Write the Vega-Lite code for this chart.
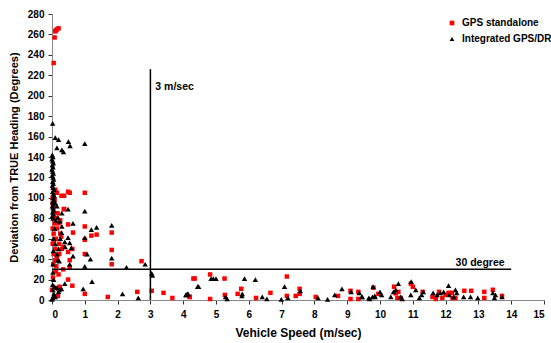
{
  "$schema": "https://vega.github.io/schema/vega-lite/v6.json",
  "width": 492,
  "height": 286,
  "autosize": "none",
  "padding": {"left": 52, "top": 14, "right": 7, "bottom": 43},
  "config": {
    "view": {"stroke": null},
    "font": "Liberation Sans",
    "axis": {
      "grid": false,
      "domainColor": "#888888",
      "tickColor": "#333333",
      "tickSize": 4,
      "labelFont": "Liberation Sans",
      "labelFontWeight": "bold",
      "labelFontSize": 10,
      "labelColor": "#000000",
      "titleFont": "Liberation Sans",
      "titleFontWeight": "bold",
      "titleFontSize": 11,
      "titleColor": "#000000"
    }
  },
  "datasets": {
    "gps": [
      {"x":0.05,"y":232},{"x":0.08,"y":257},{"x":0.1,"y":263},{"x":0.15,"y":265},{"x":0.2,"y":266},{"x":0.12,"y":264},
      {"x":0.1,"y":108},{"x":0.15,"y":105},{"x":0.29,"y":102},{"x":0.37,"y":102},{"x":0.49,"y":106},{"x":0.54,"y":105},{"x":1.0,"y":105},{"x":0.37,"y":89},{"x":0.49,"y":74},{"x":1.0,"y":72},{"x":1.0,"y":59},{"x":1.2,"y":63},{"x":1.36,"y":64},{"x":1.82,"y":66},{"x":0.64,"y":66},{"x":0.62,"y":50},{"x":1.82,"y":49},{"x":1.0,"y":45},{"x":0.49,"y":47},{"x":0.54,"y":39},{"x":0.1,"y":39},{"x":0.13,"y":33},{"x":0.34,"y":30},{"x":0.54,"y":32},{"x":1.82,"y":35},{"x":2.73,"y":38},{"x":0.2,"y":25},{"x":0.03,"y":22},{"x":0.49,"y":20},{"x":0.24,"y":11},{"x":0.18,"y":11},{"x":0.62,"y":14},{"x":1.0,"y":6},{"x":0.18,"y":4},{"x":1.7,"y":3},{"x":2.6,"y":8},{"x":3.04,"y":9},{"x":3.4,"y":7},{"x":3.67,"y":2},{"x":4.2,"y":3},{"x":4.35,"y":21},
      {"x":0.02,"y":95},{"x":0.05,"y":85},{"x":0.1,"y":80},{"x":0.08,"y":75},{"x":0.15,"y":70},{"x":0.2,"y":75},{"x":0.25,"y":78},{"x":0.05,"y":65},{"x":0.12,"y":60},{"x":0.22,"y":55},{"x":0.3,"y":50},{"x":0.05,"y":45},{"x":0.15,"y":42},{"x":0.02,"y":55},{"x":0.1,"y":50},{"x":0.25,"y":65},{"x":0.04,"y":90},{"x":0.02,"y":100},{"x":0.08,"y":98},{"x":0.17,"y":85},{"x":0.28,"y":62},{"x":0.35,"y":52},{"x":0.12,"y":28},{"x":0.22,"y":45},{"x":0.02,"y":70},{"x":0.06,"y":58},{"x":0.04,"y":35},{"x":0.0,"y":10},{"x":0.36,"y":89},{"x":0.23,"y":13},
      {"x":4.31,"y":21},{"x":4.2,"y":3},{"x":4.82,"y":25},{"x":4.82,"y":1},{"x":5.26,"y":21},{"x":5.27,"y":5},{"x":5.66,"y":6},{"x":5.77,"y":11},{"x":6.22,"y":2},{"x":6.66,"y":7},{"x":7.16,"y":23},{"x":7.16,"y":4},{"x":7.43,"y":4},{"x":7.55,"y":11},{"x":7.55,"y":6},{"x":8.04,"y":3},{"x":8.72,"y":4},{"x":9.1,"y":9},{"x":9.1,"y":1},{"x":9.34,"y":8},{"x":9.34,"y":1},{"x":9.8,"y":12},{"x":9.95,"y":6},
      {"x":10.43,"y":13},{"x":10.48,"y":6.5},{"x":10.56,"y":8},{"x":10.53,"y":2},{"x":10.63,"y":2},{"x":10.94,"y":16},{"x":11.0,"y":13},{"x":11.3,"y":8},{"x":11.7,"y":1},{"x":11.8,"y":8},{"x":11.9,"y":2},{"x":12.09,"y":7},{"x":12.19,"y":7},{"x":12.21,"y":2},{"x":12.3,"y":2},{"x":12.57,"y":9},{"x":12.78,"y":9},{"x":13.18,"y":2},{"x":13.18,"y":8},{"x":13.44,"y":10},{"x":13.72,"y":4},{"x":12.0,"y":5},{"x":11.6,"y":3}
    ],
    "dr": [
      {"x":0.02,"y":173},{"x":0.01,"y":142},{"x":0.03,"y":140},{"x":0.0,"y":138},{"x":0.02,"y":136},{"x":0.04,"y":134},{"x":0.01,"y":132},{"x":0.03,"y":130},{"x":0.0,"y":128},{"x":0.02,"y":126},{"x":0.04,"y":124},{"x":0.01,"y":122},{"x":0.03,"y":120},{"x":0.05,"y":118},{"x":0.02,"y":116},{"x":0.04,"y":114},{"x":0.01,"y":112},{"x":0.03,"y":110},{"x":0.06,"y":108},{"x":0.02,"y":106},{"x":0.04,"y":104},{"x":0.07,"y":102},{"x":0.03,"y":100},{"x":0.05,"y":98},{"x":0.02,"y":96},{"x":0.04,"y":94},{"x":0.01,"y":92},{"x":0.03,"y":90},{"x":0.05,"y":88},{"x":0.02,"y":86},{"x":0.04,"y":84},{"x":0.01,"y":82},{"x":0.03,"y":80},
      {"x":0.1,"y":159},{"x":0.2,"y":157},{"x":0.15,"y":149},{"x":0.3,"y":147},{"x":0.35,"y":145},{"x":0.5,"y":155},{"x":0.55,"y":151},{"x":1.0,"y":153},
      {"x":0.49,"y":89},{"x":1.0,"y":87},{"x":0.64,"y":75},{"x":0.18,"y":81},{"x":0.24,"y":77},{"x":0.29,"y":66},{"x":0.39,"y":57},{"x":0.49,"y":61},{"x":0.54,"y":56},{"x":0.59,"y":51},{"x":0.64,"y":43},{"x":1.0,"y":61},{"x":1.2,"y":69},{"x":1.36,"y":71},{"x":1.82,"y":73},{"x":1.07,"y":45},{"x":1.17,"y":40},{"x":1.82,"y":41},{"x":1.0,"y":33},{"x":0.54,"y":35},{"x":0.18,"y":39},{"x":0.03,"y":35},{"x":2.27,"y":32},{"x":2.84,"y":35},{"x":3.04,"y":26},{"x":3.06,"y":24},{"x":0.03,"y":27},{"x":0.08,"y":13},{"x":0.22,"y":10},{"x":0.29,"y":11},{"x":0.39,"y":16},{"x":0.95,"y":11},{"x":1.22,"y":18},{"x":2.15,"y":6},{"x":2.63,"y":2},{"x":4.1,"y":5},{"x":4.15,"y":6},{"x":4.47,"y":13},
      {"x":0.02,"y":2},{"x":0.05,"y":4},{"x":0.03,"y":10},{"x":0.06,"y":6},{"x":0.1,"y":3},{"x":0.15,"y":12},{"x":0.2,"y":8},{"x":0.05,"y":20},{"x":0.2,"y":50},{"x":0.15,"y":45},{"x":0.25,"y":60},{"x":0.3,"y":72},{"x":0.12,"y":78},{"x":0.22,"y":38},{"x":0.4,"y":52},{"x":0.3,"y":85},{"x":0.1,"y":95},{"x":0.15,"y":92},{"x":0.08,"y":70},{"x":0.05,"y":60},{"x":0.1,"y":55},{"x":0.04,"y":48},{"x":0.02,"y":15},{"x":0.0,"y":0.5},
      {"x":4.08,"y":5},{"x":4.13,"y":6},{"x":4.44,"y":13},{"x":4.85,"y":21},{"x":4.92,"y":21},{"x":5.0,"y":21},{"x":5.29,"y":3},{"x":5.34,"y":1},{"x":5.79,"y":4},{"x":5.87,"y":21},{"x":6.2,"y":20},{"x":6.41,"y":3},{"x":6.55,"y":1},{"x":6.99,"y":0.5},{"x":7.09,"y":13},{"x":7.19,"y":2},{"x":7.57,"y":9},{"x":8.11,"y":2},{"x":8.4,"y":0.5},{"x":8.62,"y":5},{"x":8.84,"y":11},{"x":9.12,"y":8},{"x":9.37,"y":7},{"x":9.46,"y":3},{"x":9.69,"y":1},{"x":9.77,"y":3},{"x":9.84,"y":4},
      {"x":9.44,"y":3},{"x":9.66,"y":2},{"x":9.79,"y":13},{"x":9.85,"y":3},{"x":10.0,"y":8},{"x":10.05,"y":5},{"x":10.33,"y":3},{"x":10.41,"y":8},{"x":10.48,"y":10},{"x":10.56,"y":16},{"x":10.63,"y":3},{"x":10.68,"y":1},{"x":10.94,"y":5},{"x":11.09,"y":10},{"x":11.2,"y":2},{"x":11.27,"y":5},{"x":11.32,"y":8},{"x":11.62,"y":7},{"x":11.74,"y":5},{"x":11.84,"y":7},{"x":11.94,"y":8},{"x":12.09,"y":14},{"x":12.11,"y":5},{"x":12.25,"y":3},{"x":12.3,"y":10},{"x":12.34,"y":7},{"x":12.55,"y":3},{"x":12.76,"y":3},{"x":12.98,"y":2},{"x":13.44,"y":7},{"x":13.49,"y":2},{"x":13.52,"y":5},{"x":13.72,"y":3},{"x":10.95,"y":18},{"x":5.8,"y":6}
    ]
  },
  "encoding": {
    "x": {"field": "x", "type": "quantitative", "title": "Vehicle Speed (m/sec)",
      "scale": {"domain": [0, 15], "nice": false, "zero": false},
      "axis": {"values": [0,1,2,3,4,5,6,7,8,9,10,11,12,13,14,15], "labelPadding": 5, "titlePadding": 8, "titleFontSize": 12}},
    "y": {"field": "y", "type": "quantitative", "title": "Deviation from TRUE Heading (Degrees)",
      "scale": {"domain": [0, 280], "nice": false},
      "axis": {"values": [0,20,40,60,80,100,120,140,160,180,200,220,240,260,280], "labelPadding": 4, "titlePadding": 8}}
  },
  "layer": [
    {
      "data": {"name": "gps"},
      "mark": {"type": "point", "filled": true, "opacity": 1, "size": 20, "strokeWidth": 0},
      "encoding": {
        "color": {"datum": "GPS standalone", "type": "nominal",
          "scale": {"domain": ["GPS standalone", "Integrated GPS/DR"], "range": ["#ff0000", "#000000"]},
          "legend": {"title": null, "orient": "none", "legendX": 395, "legendY": 4, "padding": 0,
            "labelFont": "Liberation Sans", "labelFontWeight": "bold", "labelFontSize": 10, "labelColor": "#000000",
            "symbolSize": 22, "rowPadding": 6, "labelOffset": 5}},
        "shape": {"datum": "GPS standalone", "type": "nominal",
          "scale": {"domain": ["GPS standalone", "Integrated GPS/DR"], "range": ["square", "triangle-up"]}}
      }
    },
    {
      "data": {"name": "dr"},
      "mark": {"type": "point", "filled": true, "opacity": 1, "size": 30, "strokeWidth": 0},
      "encoding": {
        "color": {"datum": "Integrated GPS/DR", "type": "nominal"},
        "shape": {"datum": "Integrated GPS/DR", "type": "nominal"}
      }
    },
    {
      "data": {"values": [{"x": 3, "y": 0, "y2": 226}]},
      "mark": {"type": "rule", "color": "#000000", "strokeWidth": 1.5},
      "encoding": {"y2": {"field": "y2"}}
    },
    {
      "data": {"values": [{"x": 0, "x2": 14, "y": 30}]},
      "mark": {"type": "rule", "color": "#000000", "strokeWidth": 1.5},
      "encoding": {"x2": {"field": "x2"}}
    },
    {
      "data": {"values": [{"x": 3.15, "y": 209, "t": "3 m/sec"}]},
      "mark": {"type": "text", "fontWeight": "bold", "fontSize": 10.5, "font": "Liberation Sans", "baseline": "middle", "align": "left", "color": "#000000"},
      "encoding": {"text": {"field": "t"}}
    },
    {
      "data": {"values": [{"x": 13.8, "y": 36, "t": "30 degree"}]},
      "mark": {"type": "text", "fontWeight": "bold", "fontSize": 10.5, "font": "Liberation Sans", "baseline": "middle", "align": "right", "color": "#000000"},
      "encoding": {"text": {"field": "t"}}
    }
  ]
}
